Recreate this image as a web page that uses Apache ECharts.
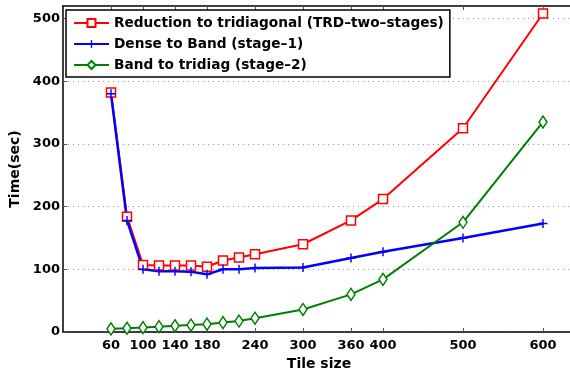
<!DOCTYPE html>
<html>
<head>
<meta charset="utf-8">
<script src="https://cdn.jsdelivr.net/npm/echarts@6/dist/echarts.min.js"></script>
<style>html,body{margin:0;padding:0;background:#fff;overflow:hidden}#wrap{width:570px;height:370px;overflow:hidden}#c{width:600px;height:370px}</style>
</head>
<body>
<div id="wrap"><div id="c"></div></div>
<script>
var tileSizes = [60, 80, 100, 120, 140, 160, 180, 200, 220, 240, 300, 360, 400, 500, 600];
var trdTotal = [382, 184, 107, 106, 106, 106, 104, 114, 119, 124, 140, 178, 212, 325, 508];
var denseToBand = [380, 178, 100, 97, 97, 96, 92, 100, 100, 102, 103, 118, 128, 150, 173];
var bandToTridiag = [5, 6, 7, 8.5, 10, 11, 12.5, 15, 17.5, 22, 36, 60, 84, 175, 335];
var xTickLabels = [60, 100, 140, 180, 240, 300, 360, 400, 500, 600];
var yTickLabels = [0, 100, 200, 300, 400, 500];
var seriesNames = ['Reduction to tridiagonal (TRD\u2013two\u2013stages)', 'Dense to Band (stage\u20131)', 'Band to tridiag (stage\u20132)'];

function pairs(ys) { return tileSizes.map(function (x, i) { return [x, ys[i]]; }); }
var FONT = 'DejaVu Sans';
var plus = 'path://M4.2,0 L5.8,0 L5.8,4.2 L10,4.2 L10,5.8 L5.8,5.8 L5.8,10 L4.2,10 L4.2,5.8 L0,5.8 L0,4.2 L4.2,4.2 Z';

var chart = echarts.init(document.getElementById('c'), null, {renderer: 'canvas'});
chart.setOption({
  animation: false,
  backgroundColor: '#fff',
  textStyle: {fontFamily: FONT},
  grid: {left: 63, right: 9, top: 6, bottom: 38, outerBoundsMode: 'none', containLabel: false, show: false},
  legend: {
    orient: 'vertical', left: 66, top: 10,
    padding: [6, 6, 5, 7], itemGap: 7, itemWidth: 35, itemHeight: 10,
    borderColor: '#000', borderWidth: 1.5, backgroundColor: '#fff',
    textStyle: {fontFamily: FONT, fontWeight: 'bold', fontSize: 13.7, lineHeight: 14, color: '#000'},
    data: seriesNames
  },
  xAxis: [{
    type: 'value', min: 0, max: 660, position: 'bottom',
    name: 'Tile size', nameLocation: 'middle', nameGap: 24,
    nameTextStyle: {fontFamily: FONT, fontWeight: 'bold', fontSize: 14, color: '#000', padding: [0, 0, 0, -16]},
    axisLine: {onZero: false, lineStyle: {color: '#000', width: 1.5}},
    axisTick: {inside: true, length: 4, customValues: xTickLabels, lineStyle: {color: '#555'}},
    axisLabel: {customValues: xTickLabels, fontFamily: FONT, fontWeight: 'bold', fontSize: 13, color: '#000', margin: 7},
    splitLine: {show: false}
  }, {
    type: 'value', min: 0, max: 660, position: 'top',
    axisLine: {onZero: false, lineStyle: {color: '#000', width: 1.5}},
    axisTick: {inside: true, length: 4, customValues: xTickLabels, lineStyle: {color: '#555'}},
    axisLabel: {show: false},
    splitLine: {show: false}
  }],
  yAxis: {
    type: 'value', min: 0, max: 520, position: 'left',
    name: 'Time(sec)', nameLocation: 'middle', nameGap: 28, nameRotate: 90,
    nameTextStyle: {fontFamily: FONT, fontWeight: 'bold', fontSize: 14, color: '#000'},
    axisLine: {show: true, onZero: false, lineStyle: {color: '#000', width: 1.5}},
    axisTick: {show: true, inside: true, length: 4, customValues: yTickLabels, lineStyle: {color: '#555'}},
    axisLabel: {customValues: yTickLabels, fontFamily: FONT, fontWeight: 'bold', fontSize: 13, color: '#000', margin: 3},
    splitLine: {show: true, lineStyle: {color: '#999', type: [1, 4], width: 1}}
  },
  series: [{
    name: seriesNames[0], type: 'line', data: pairs(trdTotal), color: '#ff0000',
    symbol: 'rect', symbolSize: 9,
    lineStyle: {color: '#ff0000', width: 2},
    itemStyle: {color: '#fff', borderColor: '#ff0000', borderWidth: 1.5}
  }, {
    name: seriesNames[1], type: 'line', data: pairs(denseToBand), color: '#0000ff',
    symbol: plus, symbolSize: 9,
    lineStyle: {color: '#0000ff', width: 2.5},
    itemStyle: {color: '#0000ff', borderWidth: 0}
  }, {
    name: seriesNames[2], type: 'line', data: pairs(bandToTridiag), color: '#008000',
    symbol: 'diamond', symbolSize: [8, 12],
    lineStyle: {color: '#008000', width: 2},
    itemStyle: {color: '#fff', borderColor: '#008000', borderWidth: 1.5}
  }]
});
</script>
</body>
</html>
